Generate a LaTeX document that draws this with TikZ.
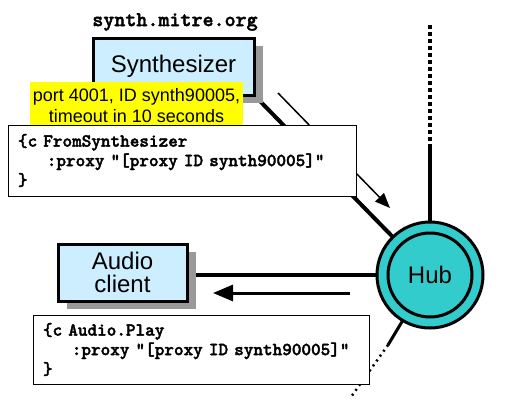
\documentclass[tikz,border=0pt]{standalone}
\usepackage{fontspec}
\setmainfont{Liberation Sans}
\newfontfamily\codefont{lmmonolt10-bold}[Extension=.otf, FakeBold=2]
\usetikzlibrary{shadows,arrows.meta,backgrounds}
\definecolor{boxblue}{HTML}{CCEEFF}
\definecolor{shadowgray}{HTML}{999999}
\definecolor{hubteal}{HTML}{33CCCC}
\definecolor{noteyellow}{HTML}{FFFF00}
\tikzset{
  compbox/.style={draw, line width=3pt, fill=boxblue, align=center, inner sep=0pt,
    font=\fontsize{24}{23}\selectfont,
    drop shadow={shadow xshift=9pt, shadow yshift=-8pt, fill=shadowgray, opacity=1}},
  notebox/.style={fill=noteyellow, align=center, inner sep=0pt, font=\fontsize{18}{21}\selectfont},
  codebox/.style={draw, line width=1pt, fill=white, align=left, inner xsep=10pt, inner ysep=0pt,
    font=\codefont\fontsize{18.3}{19.5}\selectfont},
  hostlabel/.style={font=\codefont\fontsize{21}{22}\selectfont, inner sep=0pt},
  hubouter/.style={circle, draw, line width=3pt, fill=hubteal, minimum size=106pt, inner sep=0pt},
  hubinner/.style={circle, draw, line width=3pt, fill=hubteal, minimum size=84pt, inner sep=0pt,
    font=\fontsize{24}{24}\selectfont},
  thickline/.style={line width=4pt},
  msgarrow/.style={line width=1.5pt, -{Triangle[length=15pt,width=12pt]}},
  bigarrow/.style={line width=3pt, -{Triangle[length=20pt,width=16pt]}},
}
\begin{document}
\begin{tikzpicture}[x=1pt,y=-1pt]
\useasboundingbox (0,0) rectangle (527,407);
% nodes
\node[hostlabel] (host) at (175,22) {synth.mitre.org};
\node[compbox, minimum width=161pt, minimum height=57pt] (synth) at (173.5,66.5) {Synthesizer};
\node[notebox, minimum width=213pt, minimum height=48pt] (note) at (136.5,106) {port 4001, ID synth90005,\\timeout in 10 seconds};
\node[codebox, minimum width=348pt, minimum height=71pt, text width=328pt] (code1) at (182,160.5)
  {\{c FromSynthesizer\\\phantom{xxx}:proxy "[proxy ID synth90005]"\\\}};
\node[hubouter] (hub) at (430,275) {};
\node[hubinner] (hubin) at (hub.center) {Hub};
\node[compbox, minimum width=129pt, minimum height=57pt] (audio) at (122.5,272.5) {Audio\\client};
\node[codebox, minimum width=336pt, minimum height=69pt, text width=316pt] (code2) at (201,349.5)
  {\{c Audio.Play\\\phantom{xxx}:proxy "[proxy ID synth90005]"\\\}};
% free ends
\coordinate (vmid) at (430,148);
\coordinate (vtop) at (430,25);
\coordinate (dmid) at (388,345);
\coordinate (dend) at (351,397);
\coordinate (a1s) at (278,93);
\coordinate (a1e) at (390,208);
\coordinate (a2s) at (350,293);
\coordinate (a2e) at (213,293);
% connectors
\begin{scope}[on background layer]
  \draw[thickline] (synth.south east) -- (hub.center);
  \draw[line width=3.5pt] (audio.east |- hub.west) -- (hub.west);
  \draw[thickline] (hub.north) -- (vmid);
  \draw[line width=3.5pt, dash pattern=on 4pt off 3pt] (vmid) -- (vtop);
  \draw[line width=3pt] (hub.center) -- (dmid);
  \draw[line width=2.5pt, dash pattern=on 2pt off 4pt] (dmid) -- (dend);
  \draw[msgarrow] (a1s) -- (a1e);
\end{scope}
\draw[bigarrow] (a2s) -- (a2e);
\end{tikzpicture}
\end{document}
